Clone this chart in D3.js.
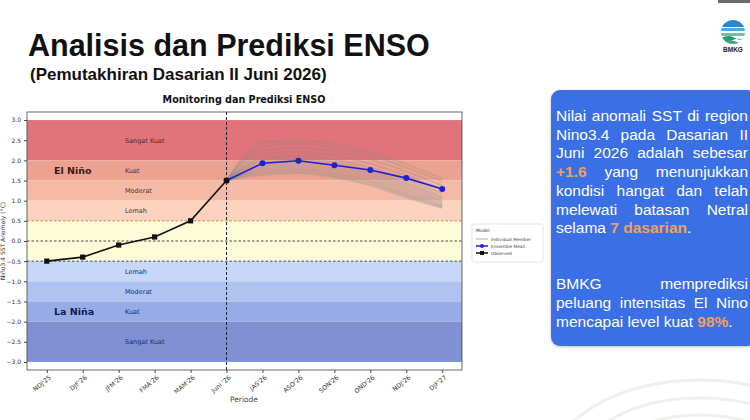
<!DOCTYPE html>
<html>
<head>
<meta charset="utf-8">
<script src="https://cdn.jsdelivr.net/npm/d3@7"></script>
<style>
  body { margin: 0; background: #fff; width: 750px; height: 420px; overflow: hidden; position: relative; }
  svg { position: absolute; left: 0; top: 0; }
  .box { position: absolute; font-family: "Liberation Sans", Arial, sans-serif; color: #fff; }
  .box div { white-space: nowrap; }
  .box .j { text-align: justify; text-align-last: justify; }
  .hl { color: #f2a05c; font-weight: bold; }
</style>
</head>
<body>
<script>
// ---------------- data ----------------
var periods = ["NDJ'25", "DJF'26", "JFM'26", "FMA'26", "MAM'26", "Juni '26",
  "JAS'26", "ASO'26", "SON'26", "OND'26", "NDJ'26", "DJF'27"];

var observed = [-0.5, -0.4, -0.1, 0.1, 0.5, 1.5];          // NDJ'25 .. Juni '26
var ensembleMean = [1.5, 1.93, 1.99, 1.88, 1.76, 1.56, 1.29]; // Juni '26 .. DJF'27

// individual model members, Juni '26 .. DJF'27
var members = [
  [1.5, 2.45, 2.50, 2.40, 2.20, 1.90, 1.55],
  [1.5, 2.35, 2.42, 2.32, 2.12, 1.82, 1.48],
  [1.5, 2.25, 2.32, 2.22, 2.02, 1.72, 1.38],
  [1.5, 2.15, 2.22, 2.12, 1.92, 1.62, 1.28],
  [1.5, 2.05, 2.12, 2.02, 1.82, 1.52, 1.18],
  [1.5, 2.00, 2.05, 1.95, 1.75, 1.45, 1.10],
  [1.5, 1.95, 2.00, 1.90, 1.70, 1.40, 1.05],
  [1.5, 1.90, 1.95, 1.85, 1.65, 1.35, 1.00],
  [1.5, 1.85, 1.90, 1.80, 1.60, 1.30, 0.96],
  [1.5, 1.80, 1.85, 1.75, 1.55, 1.25, 0.92],
  [1.5, 1.76, 1.80, 1.70, 1.50, 1.20, 0.89],
  [1.5, 1.72, 1.76, 1.66, 1.46, 1.16, 0.86],
  [1.5, 1.68, 1.72, 1.62, 1.42, 1.12, 0.84],
  [1.5, 1.64, 1.68, 1.58, 1.38, 1.08, 0.82]
];

var yTicks = [-3.0, -2.5, -2.0, -1.5, -1.0, -0.5, 0.0, 0.5, 1.0, 1.5, 2.0, 2.5, 3.0];

// intensity bands: [low, high, label]
var bands = [
  [2.0, 3.0, "Sangat Kuat"],
  [1.5, 2.0, "Kuat"],
  [1.0, 1.5, "Moderat"],
  [0.5, 1.0, "Lemah"],
  [-0.5, 0.5, ""],
  [-1.0, -0.5, "Lemah"],
  [-1.5, -1.0, "Moderat"],
  [-2.0, -1.5, "Kuat"],
  [-3.0, -2.0, "Sangat Kuat"]
];
var bandColors = ["#e0747a", "#eda291", "#f5baa6", "#fbd3be", "#fdfcd9",
  "#c6d7f8", "#afc3f1", "#97abe6", "#7f90d3"];

var textLines1 = [
  "Nilai anomali SST di region",
  "Nino3.4 pada Dasarian II",
  "Juni 2026 adalah sebesar",
  "<span class='hl'>+1.6</span> yang menunjukkan",
  "kondisi hangat dan telah",
  "melewati batasan Netral",
  "selama <span class='hl'>7 dasarian</span>."
];
var textLines2 = [
  "BMKG memprediksi",
  "peluang intensitas El Nino",
  "mencapai level kuat <span class='hl'>98%</span>."
];

(function() {
var svg = d3.select('body').append('svg')
  .attr('width', 750)
  .attr('height', 420);

var mpl = '"DejaVu Sans", sans-serif';

// faint watermark arcs bottom right
[[700, 470, 150, 90], [700, 470, 125, 72], [700, 470, 100, 55]].forEach(function(a) {
  svg.append('ellipse')
    .attr('cx', a[0]).attr('cy', a[1]).attr('rx', a[2]).attr('ry', a[3])
    .attr('fill', 'none').attr('stroke', '#eff1ec').attr('stroke-width', 3);
});

// top-right grey bar
svg.append('rect').attr('x', 718).attr('y', 0).attr('width', 32).attr('height', 3).attr('fill', '#6b6b6b');

// page titles
svg.append('text')
  .attr('x', 28).attr('y', 56)
  .attr('font-family', '"Liberation Sans", Arial, sans-serif')
  .attr('font-weight', 'bold').attr('font-size', 30.5)
  .attr('fill', '#111')
  .text('Analisis dan Prediksi ENSO');
svg.append('text')
  .attr('x', 30).attr('y', 80)
  .attr('font-family', '"Liberation Sans", Arial, sans-serif')
  .attr('font-weight', 'bold').attr('font-size', 17)
  .attr('fill', '#111')
  .text('(Pemutakhiran Dasarian II Juni 2026)');

// BMKG logo
var logo = svg.append('g').attr('transform', 'translate(733,32)');
logo.append('clipPath').attr('id', 'lc').append('circle').attr('r', 12);
var lg = logo.append('g').attr('clip-path', 'url(#lc)');
lg.append('rect').attr('x', -12).attr('y', -12).attr('width', 24).attr('height', 7).attr('fill', '#2a86cf');
lg.append('rect').attr('x', -12).attr('y', -4).attr('width', 24).attr('height', 3).attr('fill', '#4fa9d6');
lg.append('rect').attr('x', -12).attr('y', 1).attr('width', 24).attr('height', 3).attr('fill', '#6fc0a8');
lg.append('path').attr('d', 'M-12,6 Q-4,2 2,6 T12,5 L12,8 Q4,5 -2,9 T-12,9 Z').attr('fill', '#2e9a6a');
lg.append('path').attr('d', 'M-12,10 Q-2,7 4,10 T12,10 L12,12 L-12,12 Z').attr('fill', '#3aa37a');
svg.append('text')
  .attr('x', 733).attr('y', 52)
  .attr('text-anchor', 'middle')
  .attr('font-family', '"Liberation Sans", Arial, sans-serif')
  .attr('font-weight', 'bold').attr('font-size', 6.5)
  .attr('fill', '#222')
  .text('BMKG');

// ---------------- chart ----------------
var pLeft = 27, pRight = 462, pTop = 112, pBottom = 370;

var x = d3.scalePoint()
  .domain(periods)
  .range([pLeft, pRight])
  .padding(0.55);

var y = d3.scaleLinear()
  .domain([-3.2, 3.2])
  .range([pBottom, pTop]);

// bands
svg.selectAll('rect.band')
  .data(bands)
  .enter()
  .append('rect')
  .attr('class', 'band')
  .attr('x', pLeft)
  .attr('width', pRight - pLeft)
  .attr('y', function(d) { return y(d[1]); })
  .attr('height', function(d) { return y(d[0]) - y(d[1]); })
  .attr('fill', function(d, i) { return bandColors[i]; });

svg.selectAll('text.band')
  .data(bands.filter(function(d) { return d[2] !== ''; }))
  .enter()
  .append('text')
  .attr('class', 'band')
  .attr('x', 125)
  .attr('y', function(d) { return y((d[0] + d[1]) / 2) + 2.5; })
  .attr('font-family', mpl).attr('font-size', 6.5)
  .attr('fill', function(d) { return d[0] >= 0 ? '#5a2a22' : '#1e2d66'; })
  .text(function(d) { return d[2]; });

svg.append('text')
  .attr('x', 54).attr('y', y(1.75) + 3.5)
  .attr('font-family', mpl).attr('font-weight', 'bold').attr('font-size', 9.5)
  .attr('fill', '#3a1a12')
  .text('El Niño');
svg.append('text')
  .attr('x', 54).attr('y', y(-1.75) + 3.5)
  .attr('font-family', mpl).attr('font-weight', 'bold').attr('font-size', 9.5)
  .attr('fill', '#101c55')
  .text('La Niña');

// threshold lines
[[0.5, '#d9733e'], [0.0, '#3a3a20'], [-0.5, '#2a3560']].forEach(function(t) {
  svg.append('line')
    .attr('x1', pLeft).attr('x2', pRight)
    .attr('y1', y(t[0])).attr('y2', y(t[0]))
    .attr('stroke', t[1]).attr('stroke-width', 0.9)
    .attr('stroke-dasharray', '2.5,2');
});

// now line
svg.append('line')
  .attr('x1', x("Juni '26")).attr('x2', x("Juni '26"))
  .attr('y1', pTop).attr('y2', pBottom)
  .attr('stroke', '#1c2340').attr('stroke-width', 1)
  .attr('stroke-dasharray', '3,2');

var fPeriods = periods.slice(5);

// members
var memberLine = d3.line()
  .x(function(d, i) { return x(fPeriods[i]); })
  .y(function(d) { return y(d); })
  .curve(d3.curveMonotoneX);

svg.selectAll('path.member')
  .data(members)
  .enter()
  .append('path')
  .attr('class', 'member')
  .attr('d', memberLine)
  .attr('fill', 'none')
  .attr('stroke', '#8a8a8a')
  .attr('stroke-opacity', 0.28)
  .attr('stroke-width', 2);

// ensemble mean
var meanLine = d3.line()
  .x(function(d, i) { return x(fPeriods[i]); })
  .y(function(d) { return y(d); });

svg.append('path')
  .attr('d', meanLine(ensembleMean))
  .attr('fill', 'none')
  .attr('stroke', '#1f1fd6')
  .attr('stroke-width', 1.6);

svg.selectAll('circle.mean')
  .data(ensembleMean)
  .enter()
  .append('circle')
  .attr('class', 'mean')
  .attr('cx', function(d, i) { return x(fPeriods[i]); })
  .attr('cy', function(d) { return y(d); })
  .attr('r', 3)
  .attr('fill', '#1f1fd6');

// observed
var obsLine = d3.line()
  .x(function(d, i) { return x(periods[i]); })
  .y(function(d) { return y(d); });

svg.append('path')
  .attr('d', obsLine(observed))
  .attr('fill', 'none')
  .attr('stroke', '#111')
  .attr('stroke-width', 1.6);

svg.selectAll('rect.obs')
  .data(observed)
  .enter()
  .append('rect')
  .attr('class', 'obs')
  .attr('x', function(d, i) { return x(periods[i]) - 2.6; })
  .attr('y', function(d) { return y(d) - 2.6; })
  .attr('width', 5.2)
  .attr('height', 5.2)
  .attr('fill', '#111');

// frame
svg.append('rect')
  .attr('x', pLeft).attr('y', pTop)
  .attr('width', pRight - pLeft).attr('height', pBottom - pTop)
  .attr('fill', 'none').attr('stroke', '#444').attr('stroke-width', 0.8);

// axes
var y_axis = d3.axisLeft(y)
  .tickValues(yTicks)
  .tickSize(3)
  .tickFormat(d3.format('.1f'));
var gy = svg.append('g')
  .attr('transform', 'translate(' + pLeft + ',0)')
  .call(y_axis);
gy.select('.domain').remove();
gy.selectAll('text').attr('font-family', mpl).attr('font-size', 6).attr('fill', '#333');
gy.selectAll('line').attr('stroke', '#444');

var x_axis = d3.axisBottom(x).tickSize(3);
var gx = svg.append('g')
  .attr('transform', 'translate(0,' + pBottom + ')')
  .call(x_axis);
gx.select('.domain').remove();
gx.selectAll('line').attr('stroke', '#444');
gx.selectAll('text')
  .attr('font-family', mpl).attr('font-size', 6.3).attr('fill', '#333')
  .attr('text-anchor', 'end')
  .attr('dy', null)
  .attr('y', 5)
  .attr('x', 0)
  .attr('transform', 'rotate(-40) translate(-2,4)');

svg.append('text')
  .attr('x', 244).attr('y', 402)
  .attr('text-anchor', 'middle')
  .attr('font-family', mpl).attr('font-size', 7.5).attr('fill', '#444')
  .text('Periode');

svg.append('text')
  .attr('transform', 'translate(5,241) rotate(-90)')
  .attr('text-anchor', 'middle')
  .attr('font-family', mpl).attr('font-size', 6).attr('fill', '#333')
  .text('Niño3.4 SST Anomaly (°C)');

svg.append('text')
  .attr('x', 244).attr('y', 103)
  .attr('text-anchor', 'middle')
  .attr('font-family', mpl).attr('font-weight', 'bold').attr('font-size', 9.6)
  .attr('fill', '#111')
  .text('Monitoring dan Prediksi ENSO');

// legend
var leg = svg.append('g').attr('transform', 'translate(472,224)');
leg.append('rect')
  .attr('width', 71).attr('height', 38).attr('rx', 2)
  .attr('fill', '#fff').attr('stroke', '#ddd').attr('stroke-width', 0.8);
leg.append('text').attr('x', 4).attr('y', 8)
  .attr('font-family', mpl).attr('font-size', 4.5).attr('fill', '#333').text('Model');
var legItems = ['Individual Member', 'Ensemble Mean', 'Observed'];
legItems.forEach(function(name, i) {
  var yy = 15 + i * 7;
  var col = i === 0 ? '#b0b0b0' : (i === 1 ? '#1f1fd6' : '#111');
  leg.append('line').attr('x1', 4).attr('x2', 16).attr('y1', yy).attr('y2', yy)
    .attr('stroke', col).attr('stroke-width', i === 0 ? 1 : 1.5);
  if (i === 1) leg.append('circle').attr('cx', 10).attr('cy', yy).attr('r', 2).attr('fill', col);
  if (i === 2) leg.append('rect').attr('x', 8).attr('y', yy - 2).attr('width', 4).attr('height', 4).attr('fill', col);
  leg.append('text').attr('x', 19).attr('y', yy + 1.6)
    .attr('font-family', mpl).attr('font-size', 4.3).attr('fill', '#444').text(name);
});

// ---------------- right text box ----------------
var box = d3.select('body').append('div')
  .attr('class', 'box')
  .style('left', '551px').style('top', '90px')
  .style('width', '205px').style('height', '256px')
  .style('background', '#3b6fe6')
  .style('border-radius', '9px')
  .style('box-shadow', '0 1px 3px rgba(0,0,0,0.25)');

var inner = box.append('div')
  .style('position', 'absolute')
  .style('left', '5px').style('top', '17px')
  .style('width', '192px')
  .style('font-size', '15.5px')
  .style('line-height', '18.7px');

textLines1.forEach(function(t, i) {
  inner.append('div').attr('class', i < textLines1.length - 1 ? 'j' : '').html(t);
});
inner.append('div').style('height', '37.4px');
textLines2.forEach(function(t, i) {
  inner.append('div').attr('class', i < textLines2.length - 1 ? 'j' : '').html(t);
});
})();
</script>
</body>
</html>
